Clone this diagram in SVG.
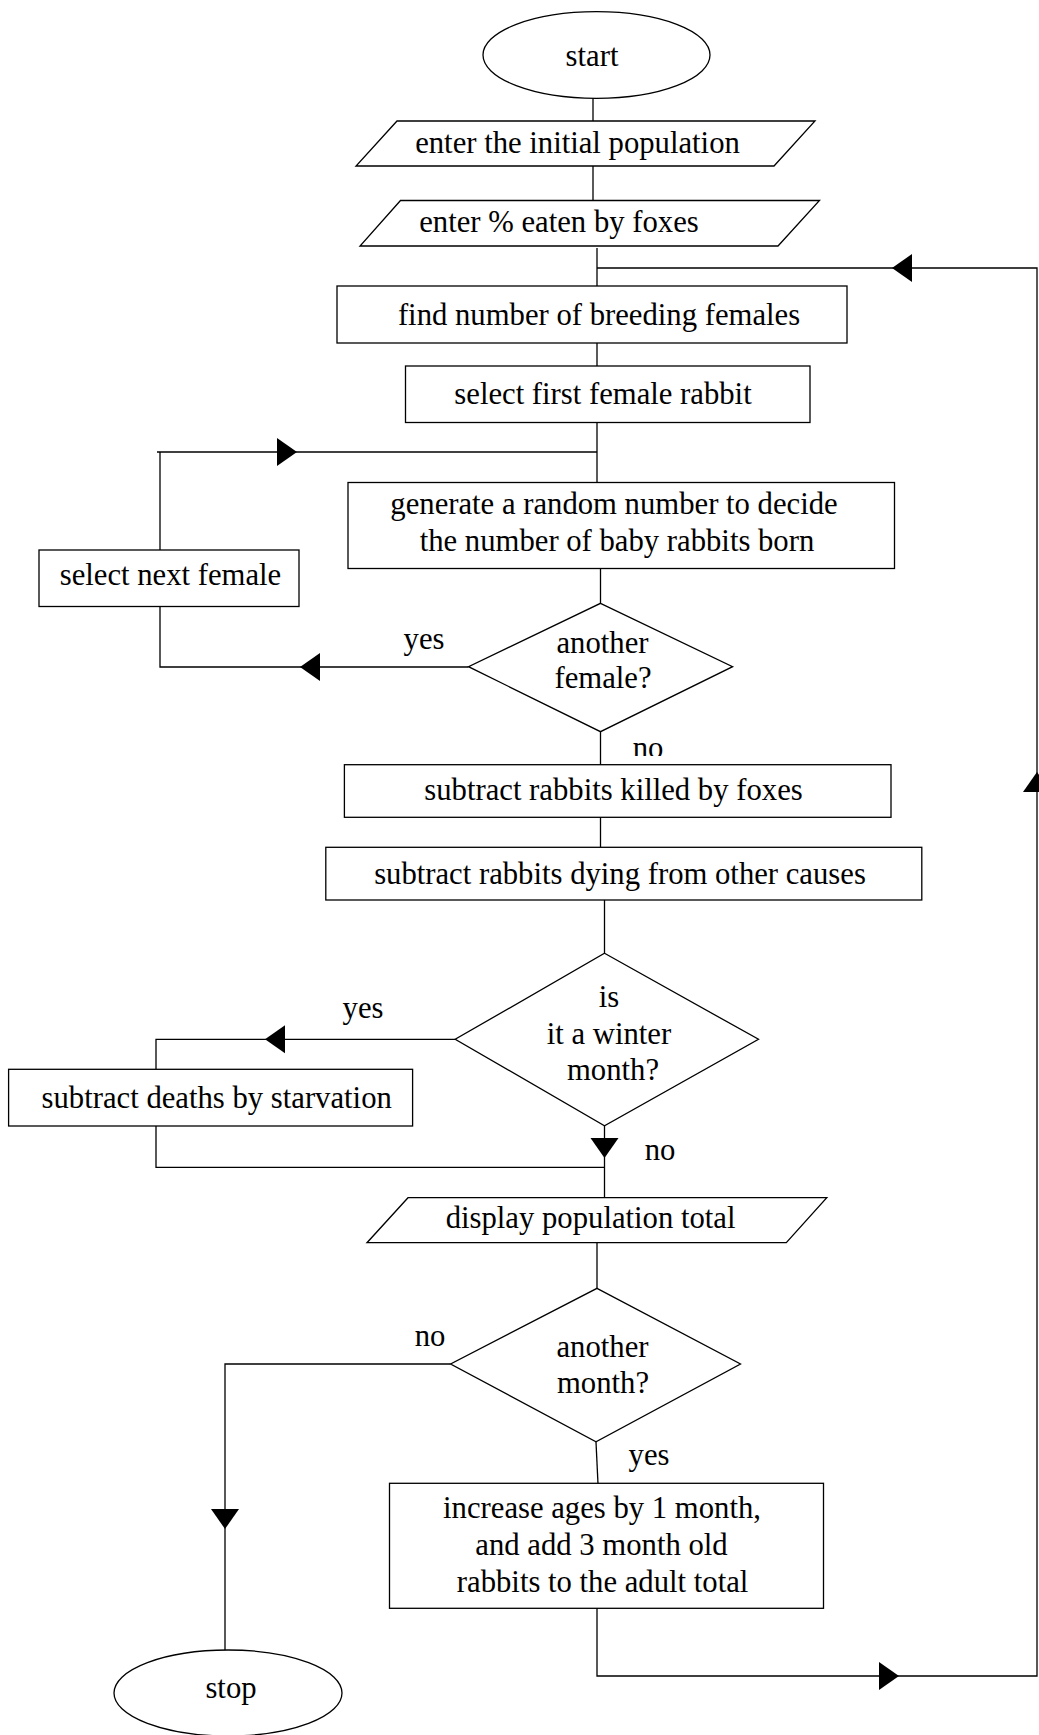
<svg xmlns="http://www.w3.org/2000/svg" xmlns:xlink="http://www.w3.org/1999/xlink" width="1039" height="1735" viewBox="0 0 1039 1735">
<style>
.s{fill:#fff;stroke:#000;stroke-width:1.3}
.c{fill:none;stroke:#000;stroke-width:1.3}
.t{font-family:"Liberation Serif","Times New Roman",serif;font-size:30.7px;fill:#000;text-anchor:middle}
</style>
<defs>
<path id="ah" d="M0,0 L-20,-14 L-20,14 Z" fill="#000"/>
<clipPath id="noclip"><rect x="600" y="700" width="120" height="56"/></clipPath>
</defs>
<rect width="1039" height="1735" fill="#fff"/>
<g id="connectors">
<path class="c" d="M593,98 V121"/>
<path class="c" d="M593,166 V200"/>
<path class="c" d="M597,248 V286"/>
<path class="c" d="M597,1608 V1676 H1037 V268 H597"/>
<path class="c" d="M597,343 V366"/>
<path class="c" d="M597,422 V482"/>
<path class="c" d="M597,452 H157"/>
<path class="c" d="M160,452 V550"/>
<path class="c" d="M600.5,568.5 V603"/>
<path class="c" d="M160,606 V667 H468.5"/>
<path class="c" d="M600.5,732 V765"/>
<path class="c" d="M600.5,817 V847"/>
<path class="c" d="M604.5,900 V953"/>
<path class="c" d="M455,1039.3 H156 V1069"/>
<path class="c" d="M156,1126 V1167.3 H604.5"/>
<path class="c" d="M604.5,1126 V1198"/>
<path class="c" d="M597,1243 V1288"/>
<path class="c" d="M450.6,1364 H225 V1650"/>
<path class="c" d="M596,1442 L598,1484"/>
<use xlink:href="#ah" transform="translate(892,268) rotate(180)"/>
<use xlink:href="#ah" transform="translate(297,452)"/>
<use xlink:href="#ah" transform="translate(300,667) rotate(180)"/>
<use xlink:href="#ah" transform="translate(265,1039.3) rotate(180)"/>
<use xlink:href="#ah" transform="translate(604.5,1158) rotate(90)"/>
<use xlink:href="#ah" transform="translate(225,1529) rotate(90)"/>
<use xlink:href="#ah" transform="translate(899,1676)"/>
<use xlink:href="#ah" transform="translate(1037,772) rotate(-90)"/>
<text class="t" x="424" y="649">yes</text>
<text class="t" x="648" y="758" clip-path="url(#noclip)">no</text>
<text class="t" x="363" y="1018">yes</text>
<text class="t" x="660" y="1160">no</text>
<text class="t" x="430" y="1346">no</text>
<text class="t" x="649" y="1465">yes</text>
</g>
<g id="start"><ellipse class="s" cx="596.5" cy="55" rx="113.5" ry="43.3"/><text class="t" x="592" y="66">start</text></g>
<g id="input-population"><polygon class="s" points="397,121 815,121 774,166 356,166"/><text class="t" x="577.5" y="153">enter the initial population</text></g>
<g id="input-foxes"><polygon class="s" points="400.5,200.5 819.5,200.5 778,246 360,246"/><text class="t" x="559" y="232">enter % eaten by foxes</text></g>
<g id="find-females"><rect class="s" x="337" y="286" width="510" height="57"/><text class="t" x="599" y="325">find number of breeding females</text></g>
<g id="select-first"><rect class="s" x="405.5" y="366" width="404.5" height="56.5"/><text class="t" x="603" y="404">select first female rabbit</text></g>
<g id="generate"><rect class="s" x="348" y="482.5" width="546.5" height="86"/><text class="t" x="614" y="513.5">generate a random number to decide</text><text class="t" x="617" y="550.5">the number of baby rabbits born</text></g>
<g id="select-next"><rect class="s" x="39" y="550" width="260" height="56.5"/><text class="t" x="170.5" y="585">select next female</text></g>
<g id="another-female"><polygon class="s" points="600.5,603.3 732.6,666.7 600.5,731.7 468.5,666.7"/><text class="t" x="602.5" y="653">another</text><text class="t" x="603" y="688">female?</text></g>
<g id="killed-by-foxes"><rect class="s" x="344.4" y="764.7" width="546.6" height="52.6"/><text class="t" x="613.5" y="800">subtract rabbits killed by foxes</text></g>
<g id="other-causes"><rect class="s" x="325.8" y="847.3" width="596" height="52.7"/><text class="t" x="620" y="883.5">subtract rabbits dying from other causes</text></g>
<g id="winter"><polygon class="s" points="604.5,953.3 758.5,1039.3 604.5,1125.7 455.2,1039.3"/><text class="t" x="609" y="1007">is</text><text class="t" x="609" y="1044">it a winter</text><text class="t" x="613" y="1080">month?</text></g>
<g id="starvation"><rect class="s" x="8.6" y="1069.3" width="404" height="56.7"/><text class="t" x="216.7" y="1108.3">subtract deaths by starvation</text></g>
<g id="display"><polygon class="s" points="408,1197.7 826.8,1197.7 786.3,1242.7 367,1242.7"/><text class="t" x="590.6" y="1228.3">display population total</text></g>
<g id="another-month"><polygon class="s" points="597,1288.3 740.5,1364 596,1441.7 450.6,1364"/><text class="t" x="602.5" y="1356.7">another</text><text class="t" x="603" y="1393.3">month?</text></g>
<g id="increase-ages"><rect class="s" x="389.5" y="1483.3" width="434" height="125"/><text class="t" x="602" y="1518.3">increase ages by 1 month,</text><text class="t" x="601.5" y="1555">and add 3 month old</text><text class="t" x="602.6" y="1592.3">rabbits to the adult total</text></g>
<g id="stop"><ellipse class="s" cx="228" cy="1693" rx="114" ry="43"/><text class="t" x="231" y="1698.3">stop</text></g>
</svg>
